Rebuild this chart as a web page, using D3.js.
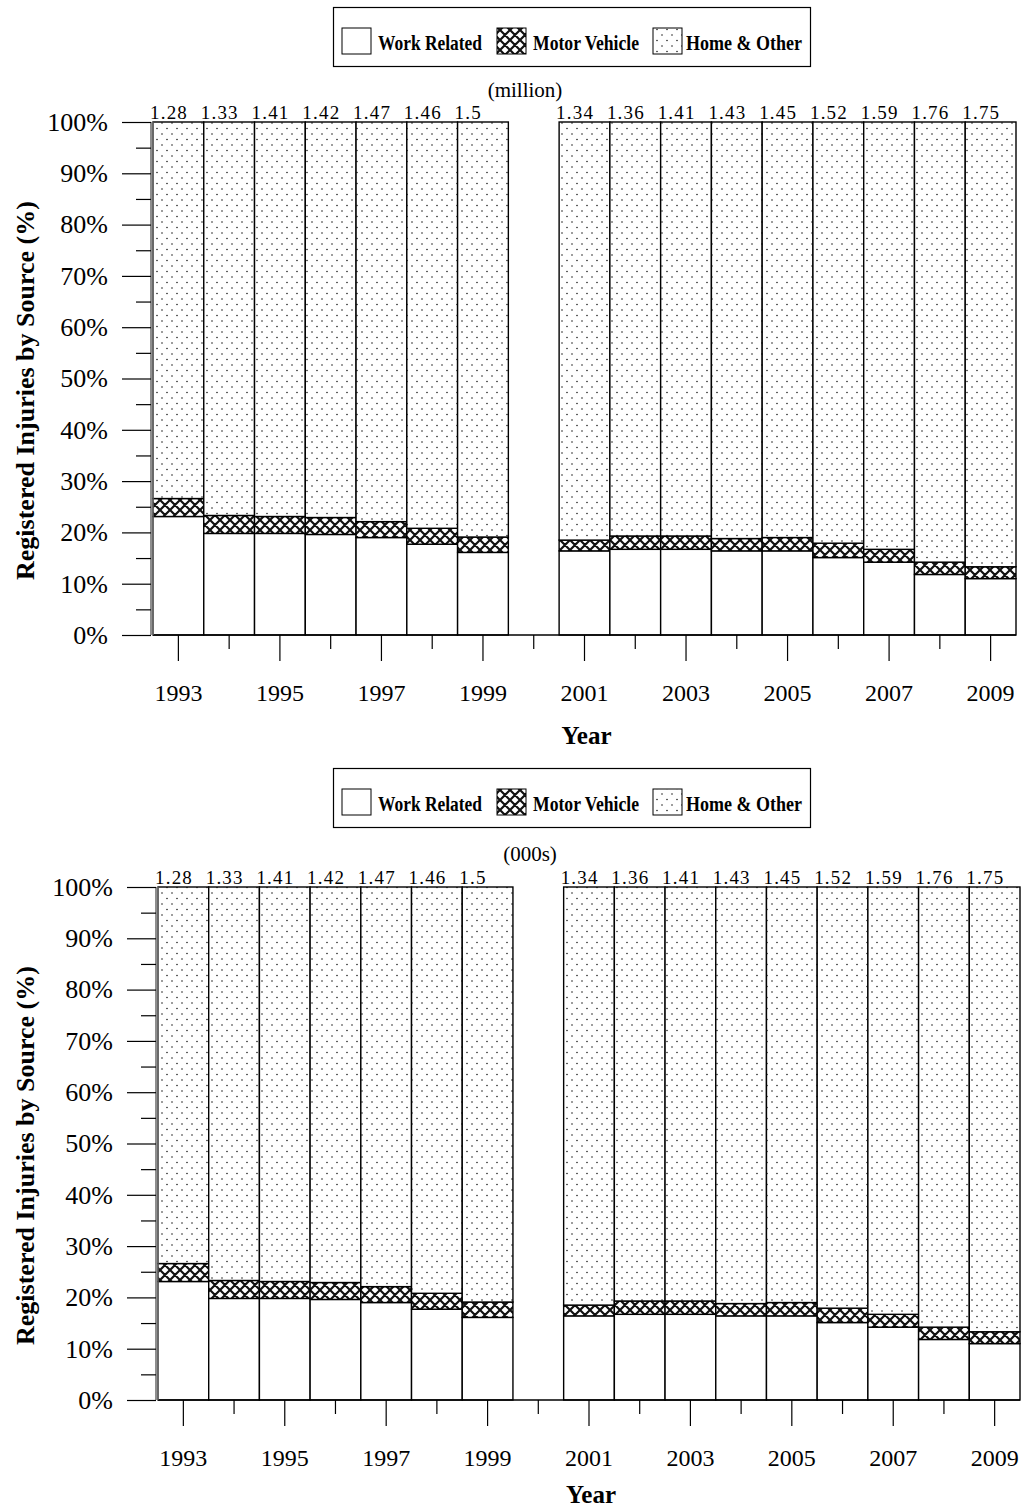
<!DOCTYPE html>
<html>
<head>
<meta charset="utf-8">
<script src="https://cdn.jsdelivr.net/npm/d3@7"></script>
<style>
  body { margin: 0; background: #fff; }
  text { font-family: "Liberation Serif", "Times New Roman", serif; fill: #000; }
</style>
</head>
<body>
<svg id="chart" width="1023" height="1512"></svg>
<script>
// Data (percent of registered injuries)
const years = ['1993','1994','1995','1996','1997','1998','1999','2000','2001','2002','2003','2004','2005','2006','2007','2008','2009'];
const workRelated  = [23.1, 19.8, 19.8, 19.6, 19.0, 17.7, 16.1, null, 16.4, 16.7, 16.7, 16.4, 16.4, 15.1, 14.2, 11.8, 11.0];
const motorVehicle = [3.5, 3.5, 3.3, 3.3, 3.1, 3.1, 3.0, null, 2.1, 2.6, 2.6, 2.4, 2.6, 2.8, 2.5, 2.4, 2.3];
const totals = ['1.28','1.33','1.41','1.42','1.47','1.46','1.5', null, '1.34','1.36','1.41','1.43','1.45','1.52','1.59','1.76','1.75'];
const seriesNames = ['Work Related', 'Motor Vehicle', 'Home & Other'];
const yTicks = d3.range(0, 101, 5);

const svg = d3.select('#chart');

// Fill patterns
const defs = svg.append('defs');
const dots = defs.append('pattern')
    .attr('id', 'dots').attr('patternUnits', 'userSpaceOnUse')
    .attr('width', 10).attr('height', 11);
dots.append('rect').attr('width', 10).attr('height', 11).attr('fill', '#fff');
dots.append('circle').attr('cx', 2).attr('cy', 2).attr('r', 0.8).attr('fill', '#222');
dots.append('circle').attr('cx', 7).attr('cy', 7.5).attr('r', 0.8).attr('fill', '#222');

const hatch = defs.append('pattern')
    .attr('id', 'hatch').attr('patternUnits', 'userSpaceOnUse')
    .attr('width', 10).attr('height', 10);
hatch.append('rect').attr('width', 10).attr('height', 10).attr('fill', '#fff');
hatch.append('path')
    .attr('d', 'M-2,-2L12,12M-2,8L2,12M8,-2L12,2M12,-2L-2,12M12,8L8,12M2,-2L-2,2')
    .attr('stroke', '#111').attr('stroke-width', 2.2);

const fills = ['#fff', 'url(#hatch)', 'url(#dots)'];

function drawPanel(cfg) {
    const x = d3.scaleBand().domain(years).range([cfg.left, cfg.right]).paddingInner(0);
    const y = d3.scaleLinear().domain([0, 100]).range([cfg.bottom, cfg.top]);

    // Legend
    const lg = svg.append('g');
    lg.append('rect')
        .attr('x', 333.5).attr('y', cfg.legendY + 0.5)
        .attr('width', 477).attr('height', 59)
        .attr('fill', '#fff').attr('stroke', '#000').attr('stroke-width', 1.2);
    const swatchX = [342, 497, 653];
    const labelX = [378, 533, 686];
    const labelW = [104, 106, 116];
    seriesNames.forEach((name, i) => {
        lg.append('rect')
            .attr('x', swatchX[i]).attr('y', cfg.legendY + 21)
            .attr('width', 29).attr('height', 26)
            .attr('fill', fills[i]).attr('stroke', '#000').attr('stroke-width', 1);
        lg.append('text')
            .attr('x', labelX[i]).attr('y', cfg.legendY + 43)
            .attr('font-size', 22).attr('font-weight', 'bold')
            .attr('textLength', labelW[i]).attr('lengthAdjust', 'spacingAndGlyphs')
            .text(name);
    });

    // Unit note
    svg.append('text')
        .attr('x', cfg.unitX).attr('y', cfg.unitY)
        .attr('text-anchor', 'middle').attr('font-size', 21)
        .text(cfg.unit);

    // Stacked bars
    const g = svg.append('g');
    years.forEach((yr, i) => {
        if (workRelated[i] == null) return;
        const parts = [workRelated[i], motorVehicle[i], 100 - workRelated[i] - motorVehicle[i]];
        let base = 0;
        parts.forEach((v, k) => {
            g.append('rect')
                .attr('x', x(yr)).attr('width', x.bandwidth())
                .attr('y', y(base + v)).attr('height', y(base) - y(base + v))
                .attr('fill', fills[k]).attr('stroke', '#000').attr('stroke-width', 1.4);
            base += v;
        });
        g.append('text')
            .attr('x', x(yr) - 3).attr('y', cfg.top - 3)
            .attr('font-size', 19).attr('letter-spacing', 1.2)
            .text(totals[i]);
    });

    // X axis
    const xAxis = svg.append('g')
        .attr('transform', `translate(0,${cfg.bottom})`)
        .call(d3.axisBottom(x).tickSize(26).tickPadding(23)
            .tickFormat(d => (+d % 2 === 1 ? d : '')));
    xAxis.select('.domain').attr('d', `M${cfg.left},0H${cfg.right}`).attr('stroke-width', 1.5);
    xAxis.selectAll('.tick line')
        .attr('y2', d => (+d % 2 === 1 ? 26 : 14))
        .attr('stroke-width', 1.2);
    xAxis.selectAll('.tick text').attr('font-size', 24).attr('font-family', '"Liberation Serif", serif');

    // Y axis
    const yAxis = svg.append('g')
        .attr('transform', `translate(${cfg.left - 2},0)`)
        .call(d3.axisLeft(y).tickValues(yTicks).tickSize(29).tickPadding(14)
            .tickFormat(d => (d % 10 === 0 ? d + '%' : '')));
    yAxis.select('.domain').attr('d', `M0,${cfg.top}V${cfg.bottom}`).attr('stroke', '#444').attr('stroke-width', 1.2);
    yAxis.append('line')
        .attr('x1', 2).attr('x2', 2).attr('y1', cfg.top).attr('y2', cfg.bottom)
        .attr('stroke', '#888').attr('stroke-width', 1);
    yAxis.selectAll('.tick line')
        .attr('x2', d => (d % 10 === 0 ? -29 : -15))
        .attr('stroke-width', 1.2);
    yAxis.selectAll('.tick text').attr('font-size', 26).attr('font-family', '"Liberation Serif", serif');

    // Axis titles
    svg.append('text')
        .attr('x', (cfg.left + cfg.right) / 2 + 2).attr('y', cfg.bottom + cfg.titleGap)
        .attr('text-anchor', 'middle').attr('font-size', 25).attr('font-weight', 'bold')
        .text('Year');
    svg.append('text')
        .attr('transform', `translate(34,${(cfg.top + cfg.bottom) / 2 + 12}) rotate(-90)`)
        .attr('text-anchor', 'middle').attr('font-size', 26).attr('font-weight', 'bold')
        .text('Registered Injuries by Source (%)');
}

drawPanel({ legendY: 7, unitX: 525, unitY: 97, unit: '(million)', top: 122, bottom: 635, left: 153, right: 1016, titleGap: 109 });
drawPanel({ legendY: 768, unitX: 530, unitY: 861, unit: '(000s)', top: 887, bottom: 1400, left: 158, right: 1020, titleGap: 103 });
</script>
</body>
</html>
